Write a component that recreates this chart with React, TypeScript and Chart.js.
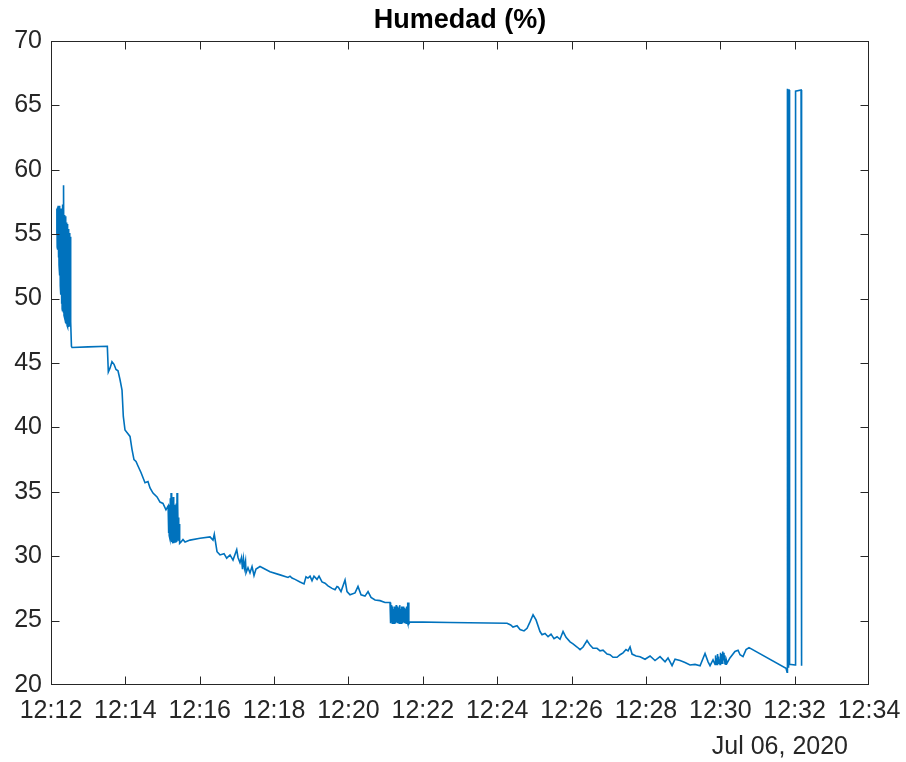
import { useEffect, useRef } from "react";
import { Chart, registerables } from "chart.js";

Chart.register(...registerables);

// Seconds after 12:12:00 (Jul 06, 2020)
const times: number[] = [
  9.0, 9.5, 10.0, 10.5, 11.0, 11.5, 12.0, 12.5, 13.0, 13.5, 14.0, 14.5, 15.0, 15.5, 16.0, 16.5,
  17.0, 17.5, 18.0, 18.5, 19.0, 19.5, 20.0, 20.5, 21.0, 21.5, 22.0, 22.5, 23.0, 23.5, 24.0, 24.5,
  25.0, 25.5, 26.0, 26.5, 27.0, 27.5, 28.0, 28.5, 29.0, 29.5, 30.0, 30.5, 31.0, 31.5, 32.0,
  33.0, 34.0, 60.0, 90.9, 92.5, 95.2, 98.4, 101.7, 104.9, 108.1, 111.4, 114.6, 116.7, 119.4,
  122.6, 127.5, 130.7, 133.9, 137.2, 140.4, 145.2, 151.7, 156.5, 159.8, 164.6, 171.1, 175.9,
  180.7, 185.5,
  189.0, 189.6, 190.2, 190.8, 191.4, 192.0, 192.6, 193.2, 193.8, 194.4, 195.0, 195.6, 196.2,
  196.8, 197.4, 198.0, 198.6, 199.2, 199.8, 200.4, 201.0, 201.6, 202.2, 202.8, 203.4, 204.0,
  204.6, 205.2, 205.8, 206.4, 207.0, 207.6,
  209.8, 213.0, 216.3, 224.3, 240.5, 256.6, 261.4, 263.5, 267.9, 272.7, 279.2, 283.5, 288.9,
  293.7, 299.7, 301.8, 305.0, 307.4, 309.0, 310.6, 312.2, 313.9, 314.7, 317.9, 321.1, 324.4,
  327.6, 330.8, 337.3, 353.4, 369.6, 382.5, 385.7, 388.9, 393.8, 401.8, 408.3, 411.5, 414.7,
  418.0, 421.2, 424.4, 429.3, 432.5, 437.3, 442.2, 447.0, 453.5, 458.3, 461.5, 463.6, 468.0,
  474.5, 477.7, 482.5, 490.6, 495.4, 500.3, 506.7, 511.6, 516.4, 522.9, 530.9, 539.0, 547.1,
  548.0, 548.7, 549.4, 550.1, 550.8, 551.5, 552.2, 552.9, 553.6, 554.3, 555.0, 555.7, 556.4,
  557.1, 557.8, 558.5, 559.2, 559.9, 560.6, 561.3, 562.0, 562.7, 563.4, 564.1, 564.8, 565.5,
  566.2, 566.9, 567.6, 568.3, 569.0, 569.7, 570.4, 571.1, 571.8, 572.5, 573.2, 573.9, 574.6,
  575.3, 576.0, 576.7, 577.4,
  579.3, 643.9, 735.9, 741.8, 745.5, 752.0, 756.9, 763.3, 768.2, 773.0, 777.9, 782.7, 789.1,
  792.4, 797.2, 802.1, 806.9, 811.7, 816.6, 821.4, 826.3, 831.1, 837.6, 842.4, 848.9, 853.7,
  858.6, 865.0, 869.8, 874.7, 881.1, 886.0, 890.8, 897.3, 902.1, 906.9, 913.4, 918.3, 923.1,
  927.9, 931.2, 934.4, 937.6, 944.1, 950.5, 958.6, 966.7, 974.7, 982.8, 990.9, 995.7, 1002.2,
  1007.0, 1015.1, 1023.1, 1031.2, 1039.3, 1047.4, 1055.4, 1060.3, 1063.5, 1068.3,
  1071.6, 1072.4, 1073.2, 1074.0, 1074.8, 1075.6, 1076.4, 1077.2, 1078.0, 1078.8, 1079.6,
  1080.4, 1081.2, 1082.0, 1082.8, 1083.6, 1084.4, 1085.2, 1086.0, 1086.8, 1087.6, 1088.4,
  1089.2, 1090.0, 1091.0,
  1095.6, 1103.7, 1108.7, 1111.9, 1116.7, 1121.6, 1126.4, 1186.1, 1187.8, 1188.4, 1189.6,
  1190.2, 1191.0, 1191.8, 1200.7, 1201.5, 1210.4, 1211.2,
];

// Relative humidity (%)
const humidity: number[] = [
  55.0, 57.0, 54.0, 57.1, 53.8, 57.2, 53.2, 57.0, 52.6, 57.2, 51.8, 57.1, 51.0, 56.9, 50.3, 57.0,
  49.6, 56.8, 49.2, 57.3, 49.0, 56.6, 48.9, 58.8, 48.7, 56.5, 48.5, 56.2, 48.3, 56.4, 48.1, 55.9,
  48.0, 55.6, 47.9, 55.8, 47.8, 55.4, 47.9, 55.2, 47.8, 55.0, 48.0, 55.1, 47.9, 54.8, 48.2,
  46.3, 46.2, 46.25, 46.3, 44.3, 44.6, 45.1, 44.9, 44.5, 44.4, 43.7, 42.9, 40.85, 39.8,
  39.6, 39.3, 38.3, 37.5, 37.35, 37.0, 36.5, 35.7, 35.8, 35.3, 34.9, 34.6, 34.2,
  34.1, 33.6,
  33.9, 31.8, 34.0, 31.6, 33.6, 31.4, 34.5, 31.2, 34.9, 31.1, 33.8, 31.3, 34.2,
  31.0, 34.6, 31.0, 33.5, 31.2, 34.0, 31.1, 33.2, 31.4, 34.1, 31.1, 34.9, 31.2,
  34.3, 31.4, 33.0, 31.3, 32.5, 31.0,
  31.1, 31.3, 31.1, 31.25, 31.4, 31.5, 31.25, 31.7, 30.35, 30.1, 30.2, 29.85, 30.1,
  29.7, 30.5, 29.9, 29.5, 29.9, 29.0, 29.8, 29.1, 29.6, 28.7, 29.1, 28.7, 29.2,
  28.5, 29.0, 29.2, 28.8, 28.55, 28.35, 28.45, 28.3, 28.2, 28.0, 27.85, 28.4, 28.3,
  28.45, 28.1, 28.45, 28.2, 28.45, 28.0, 27.9, 27.7, 27.5, 27.4, 27.65, 27.6, 27.25,
  28.15, 27.25, 27.0, 27.15, 27.65, 27.0, 26.9, 27.25, 26.8, 26.6, 26.55, 26.4, 26.4,
  24.8, 26.2, 24.9, 26.0, 24.8, 26.1, 24.9, 25.9, 24.8, 26.1, 24.9, 26.0, 24.8,
  26.2, 24.9, 25.9, 24.8, 26.1, 25.0, 26.0, 24.8, 26.2, 24.9, 25.9, 24.8, 26.1,
  24.9, 26.0, 24.8, 26.1, 24.9, 25.8, 24.8, 26.0, 24.9, 25.9, 24.8, 26.1, 25.0,
  26.4, 24.8, 26.4, 24.75,
  24.9, 24.85, 24.8, 24.66, 24.5, 24.6, 24.3, 24.2, 24.4, 24.9, 25.45, 25.05, 24.15,
  23.9, 24.0, 23.75, 23.95, 23.6, 23.75, 23.55, 24.15, 23.7, 23.35, 23.2, 22.95, 22.75,
  22.95, 23.45, 23.1, 22.85, 22.85, 22.65, 22.7, 22.4, 22.35, 22.15, 22.15, 22.35, 22.5,
  22.75, 22.65, 22.95, 22.4, 22.25, 22.2, 22.0, 22.25, 21.9, 22.2, 21.8, 22.1, 21.5,
  22.0, 21.9, 21.75, 21.55, 21.6, 21.5, 22.45, 21.8, 21.5, 21.95,
  21.6, 22.3, 21.7, 22.1, 21.6, 22.4, 21.8, 22.2, 21.7, 22.0, 21.6,
  22.5, 21.9, 22.4, 21.7, 22.6, 21.8, 22.5, 21.9, 22.3, 21.6, 22.0,
  21.55, 21.9, 21.7,
  22.1, 22.6, 22.7, 22.35, 22.2, 22.75, 22.9, 21.3, 21.0, 66.3, 21.4,
  66.2, 66.2, 21.6, 21.55, 66.1, 66.2, 21.5,
];

const xTickLabels: string[] = [
  "12:12", "12:14", "12:16", "12:18", "12:20", "12:22",
  "12:24", "12:26", "12:28", "12:30", "12:32", "12:34",
];
const xTickStep = 120;
const xMax = 1320;
const yMin = 20;
const yMax = 70;
const yStep = 5;

const titleText = "Humedad (%)";
const dateText = "Jul 06, 2020";

const FONT = '"Liberation Sans", Arial, Helvetica, sans-serif';
const AXIS_COLOR = "#262626";

const framePlugin = {
  id: "matlabFrame",
  afterDraw(chart: any) {
    const { ctx, chartArea: a, scales } = chart;
    const L = Math.round(a.left) + 0.5;
    const R = Math.round(a.right) - 0.5;
    const T = Math.round(a.top) + 0.5;
    const B = Math.round(a.bottom) - 0.5;
    const tl = 8;
    ctx.save();
    ctx.strokeStyle = AXIS_COLOR;
    ctx.lineWidth = 1;
    ctx.strokeRect(L, T, R - L, B - T);
    ctx.beginPath();
    scales.x.ticks.forEach((t: any) => {
      const raw = Math.round(scales.x.getPixelForValue(t.value)) + 0.5;
      const px = Math.min(Math.max(raw, L), R);
      ctx.moveTo(px, B);
      ctx.lineTo(px, B - tl);
      ctx.moveTo(px, T);
      ctx.lineTo(px, T + tl);
    });
    scales.y.ticks.forEach((t: any) => {
      const raw = Math.round(scales.y.getPixelForValue(t.value)) + 0.5;
      const py = Math.min(Math.max(raw, T), B);
      ctx.moveTo(L, py);
      ctx.lineTo(L + tl, py);
      ctx.moveTo(R, py);
      ctx.lineTo(R - tl, py);
    });
    ctx.stroke();

    ctx.fillStyle = "#000000";
    ctx.font = `bold 27px ${FONT}`;
    ctx.textAlign = "center";
    ctx.textBaseline = "middle";
    ctx.fillText(titleText, (a.left + a.right) / 2, 21);

    ctx.fillStyle = AXIS_COLOR;
    ctx.font = `25px ${FONT}`;
    ctx.textAlign = "right";
    ctx.fillText(dateText, a.right - 21, a.bottom + 62);
    ctx.restore();
  },
};

export default function App() {
  const canvasRef = useRef<HTMLCanvasElement | null>(null);

  useEffect(() => {
    const canvas = canvasRef.current;
    if (!canvas) return;
    const points = times.map((t, i) => ({ x: t, y: humidity[i] }));
    const chart = new Chart(canvas, {
      type: "line",
      data: {
        datasets: [
          {
            data: points,
            borderColor: "#0072BD",
            borderWidth: 1.6,
            pointRadius: 0,
            fill: false,
            tension: 0,
          },
        ],
      },
      options: {
        animation: false,
        responsive: false,
        devicePixelRatio: 1,
        parsing: false,
        normalized: true,
        layout: { padding: { top: 41, right: 37, bottom: 0, left: 0 } },
        plugins: {
          legend: { display: false },
          tooltip: { enabled: false },
          title: { display: false },
        },
        scales: {
          x: {
            type: "linear",
            min: 0,
            max: xMax,
            grid: { display: false, drawTicks: false },
            border: { display: false },
            afterFit: (scale: any) => {
              scale.height = 77;
              scale.paddingLeft = 0;
              scale.paddingRight = 0;
            },
            ticks: {
              stepSize: xTickStep,
              autoSkip: false,
              maxRotation: 0,
              minRotation: 0,
              padding: 11,
              color: AXIS_COLOR,
              font: { family: FONT, size: 25 },
              callback: (v: any) => xTickLabels[Math.round(Number(v) / xTickStep)] ?? "",
            },
          },
          y: {
            type: "linear",
            min: yMin,
            max: yMax,
            grid: { display: false, drawTicks: false },
            border: { display: false },
            afterFit: (scale: any) => {
              scale.width = 51;
              scale.paddingTop = 0;
              scale.paddingBottom = 0;
            },
            ticks: {
              stepSize: yStep,
              padding: 9,
              color: AXIS_COLOR,
              font: { family: FONT, size: 25 },
            },
          },
        },
      },
      plugins: [framePlugin],
    });
    return () => chart.destroy();
  }, []);

  return (
    <div
      style={{
        position: "absolute",
        left: 0,
        top: 0,
        width: 906,
        height: 762,
        background: "#ffffff",
      }}
    >
      <canvas ref={canvasRef} width={906} height={762} style={{ display: "block" }} />
    </div>
  );
}
